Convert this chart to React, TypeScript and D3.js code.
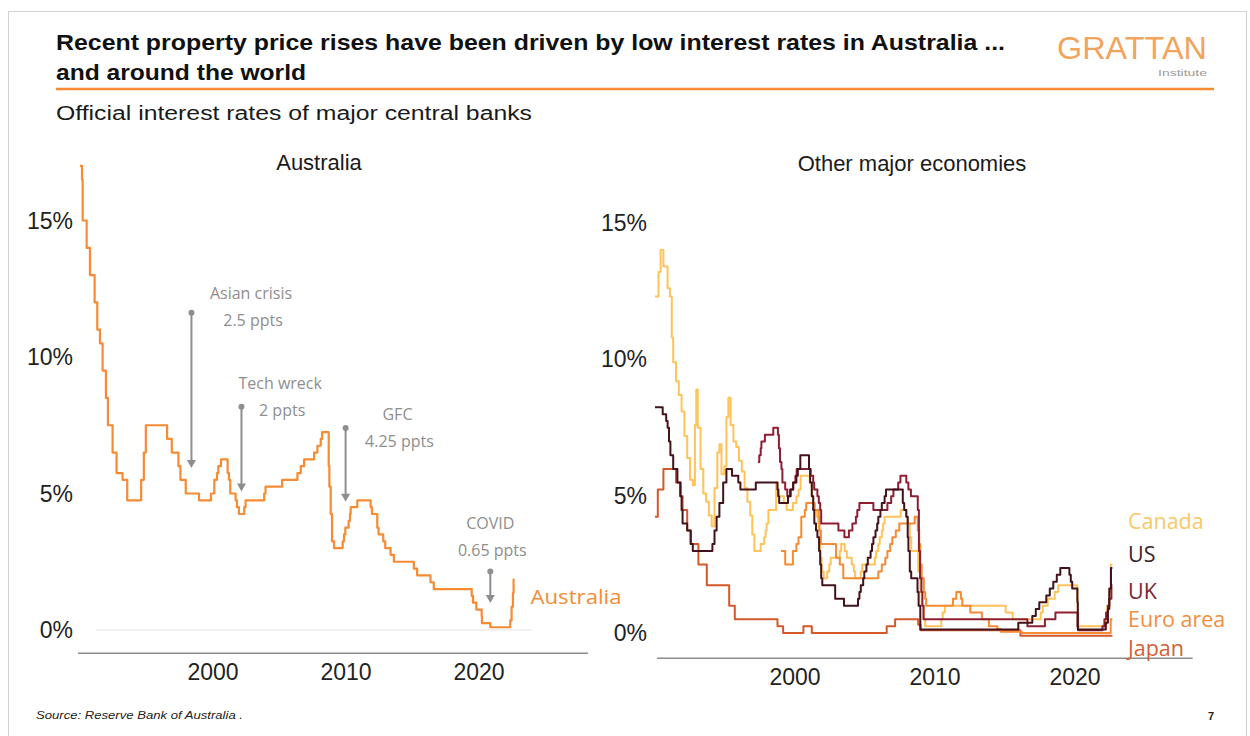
import React from 'react';
import * as d3 from 'd3';

type Pt = [number, number];

// ---------- DATA (year, % rate) — change points, drawn as steps ----------
const australia: Pt[] = [
  [1990.0, 17.0], [1990.15, 16.5], [1990.2, 15.0], [1990.5, 14.0], [1990.75, 13.0], [1991.1, 12.0],
  [1991.3, 11.0], [1991.5, 10.5], [1991.7, 9.5], [1991.95, 8.5], [1992.1, 7.5], [1992.45, 6.5],
  [1992.75, 5.75], [1993.2, 5.5], [1993.55, 4.75], [1994.6, 5.5], [1994.8, 6.5], [1994.95, 7.5],
  [1996.55, 7.0], [1996.9, 6.5], [1997.4, 6.0], [1997.55, 5.5], [1997.95, 5.0], [1998.95, 4.75],
  [1999.85, 5.0], [2000.1, 5.5], [2000.3, 5.75], [2000.4, 6.0], [2000.6, 6.25], [2001.1, 5.75],
  [2001.2, 5.5], [2001.3, 5.0], [2001.7, 4.75], [2001.8, 4.5], [2001.95, 4.25], [2002.35, 4.5],
  [2002.45, 4.75], [2003.85, 5.0], [2003.95, 5.25], [2005.2, 5.5], [2006.35, 5.75], [2006.6, 6.0],
  [2006.85, 6.25], [2007.6, 6.5], [2007.85, 6.75], [2008.1, 7.0], [2008.2, 7.25], [2008.7, 6.0],
  [2008.75, 5.25], [2008.85, 4.25], [2008.95, 3.25], [2009.1, 3.0], [2009.75, 3.25], [2009.85, 3.5],
  [2009.95, 3.75], [2010.2, 4.0], [2010.3, 4.25], [2010.35, 4.5], [2010.85, 4.75], [2011.85, 4.5],
  [2011.95, 4.25], [2012.35, 3.75], [2012.45, 3.5], [2012.8, 3.25], [2012.95, 3.0], [2013.35, 2.75],
  [2013.6, 2.5], [2015.1, 2.25], [2015.35, 2.0], [2016.35, 1.75], [2016.6, 1.5], [2019.45, 1.25],
  [2019.55, 1.0], [2019.8, 0.75], [2020.2, 0.5], [2020.22, 0.25], [2020.85, 0.1], [2022.35, 0.35],
  [2022.45, 0.85], [2022.55, 1.35], [2022.6, 1.85], [2022.67, 1.85],
];

const canada: Pt[] = [
  [1990.0, 12.3], [1990.25, 13.2], [1990.4, 14.0], [1990.6, 13.4], [1990.9, 12.6], [1991.07, 12.3],
  [1991.2, 10.8], [1991.3, 9.9], [1991.5, 9.2], [1991.7, 8.7], [1991.9, 8.1], [1992.1, 7.2],
  [1992.3, 6.4], [1992.5, 5.6], [1992.7, 5.4], [1992.85, 7.6], [1992.95, 8.9], [1993.05, 7.5],
  [1993.25, 6.0], [1993.45, 5.1], [1993.65, 4.8], [1993.85, 4.3], [1994.05, 3.9], [1994.25, 5.3],
  [1994.45, 6.6], [1994.6, 6.9], [1994.75, 5.8], [1994.95, 6.1], [1995.1, 7.9], [1995.24, 8.6],
  [1995.4, 7.6], [1995.6, 7.0], [1995.8, 6.8], [1996.0, 6.3], [1996.2, 5.9], [1996.4, 5.3],
  [1996.6, 4.8], [1996.8, 4.3], [1996.95, 3.6], [1997.1, 3.0], [1997.55, 3.25], [1997.8, 3.5],
  [1997.9, 3.75], [1997.97, 4.0], [1998.1, 4.5], [1998.65, 5.5], [1998.75, 5.25], [1998.85, 5.0],
  [1999.2, 4.75], [1999.4, 4.5], [1999.85, 4.75], [2000.1, 5.0], [2000.25, 5.25], [2000.4, 5.75],
  [2001.05, 5.5], [2001.2, 5.0], [2001.3, 4.75], [2001.4, 4.5], [2001.55, 4.25], [2001.65, 4.0],
  [2001.72, 3.75], [2001.8, 2.75], [2001.9, 2.25], [2002.05, 2.0], [2002.3, 2.25], [2002.45, 2.5],
  [2002.55, 2.75], [2003.2, 3.0], [2003.3, 3.25], [2003.55, 3.0], [2003.7, 2.75], [2004.05, 2.5],
  [2004.2, 2.25], [2004.3, 2.0], [2004.7, 2.25], [2004.8, 2.5], [2005.7, 2.75], [2005.8, 3.0],
  [2005.95, 3.25], [2006.05, 3.5], [2006.2, 3.75], [2006.3, 4.0], [2006.4, 4.25], [2007.55, 4.5],
  [2007.95, 4.25], [2008.05, 4.0], [2008.2, 3.5], [2008.3, 3.0], [2008.8, 2.25], [2008.95, 1.5],
  [2009.05, 1.0], [2009.2, 0.5], [2009.3, 0.25], [2010.45, 0.5], [2010.55, 0.75], [2010.7, 1.0],
  [2015.05, 0.75], [2015.55, 0.5], [2017.55, 0.75], [2017.7, 1.0], [2018.05, 1.25], [2018.55, 1.5],
  [2018.8, 1.75], [2020.17, 1.25], [2020.2, 0.75], [2020.23, 0.25], [2022.2, 0.5], [2022.3, 1.0],
  [2022.45, 1.5], [2022.55, 2.5], [2022.67, 2.5],
];

const us: Pt[] = [
  [1990.0, 8.25], [1990.55, 8.0], [1990.8, 7.75], [1990.9, 7.5], [1991.0, 7.0], [1991.1, 6.5],
  [1991.3, 6.0], [1991.6, 5.5], [1991.8, 5.0], [1991.9, 4.5], [1991.97, 4.0], [1992.3, 3.75],
  [1992.55, 3.25], [1992.7, 3.0], [1994.1, 3.25], [1994.25, 3.75], [1994.4, 4.25], [1994.6, 4.75],
  [1994.87, 5.5], [1995.1, 6.0], [1995.5, 5.75], [1995.95, 5.5], [1996.1, 5.25], [1997.2, 5.5],
  [1998.75, 5.25], [1998.8, 5.0], [1998.87, 4.75], [1999.5, 5.0], [1999.65, 5.25], [1999.87, 5.5],
  [2000.1, 5.75], [2000.2, 6.0], [2000.38, 6.5], [2001.0, 6.0], [2001.08, 5.5], [2001.2, 5.0],
  [2001.3, 4.5], [2001.38, 4.0], [2001.5, 3.75], [2001.6, 3.5], [2001.72, 3.0], [2001.8, 2.5],
  [2001.87, 2.0], [2001.95, 1.75], [2002.87, 1.25], [2003.5, 1.0], [2004.5, 1.25], [2004.6, 1.5],
  [2004.7, 1.75], [2004.87, 2.0], [2004.95, 2.25], [2005.1, 2.5], [2005.2, 2.75], [2005.4, 3.0],
  [2005.5, 3.25], [2005.6, 3.5], [2005.75, 3.75], [2005.87, 4.0], [2005.95, 4.25], [2006.1, 4.5],
  [2006.2, 4.75], [2006.4, 5.0], [2006.5, 5.25], [2007.7, 4.75], [2007.8, 4.5], [2007.95, 4.25],
  [2008.05, 3.5], [2008.1, 3.0], [2008.2, 2.25], [2008.3, 2.0], [2008.75, 1.5], [2008.83, 1.0],
  [2008.95, 0.125], [2015.95, 0.375], [2016.95, 0.625], [2017.2, 0.875], [2017.45, 1.125],
  [2017.95, 1.375], [2018.2, 1.625], [2018.45, 1.875], [2018.7, 2.125], [2018.95, 2.375],
  [2019.6, 2.125], [2019.7, 1.875], [2019.8, 1.625], [2020.17, 1.125], [2020.2, 0.125],
  [2022.2, 0.375], [2022.35, 0.875], [2022.45, 1.625], [2022.57, 2.375], [2022.67, 2.375],
];

const uk: Pt[] = [
  [1997.35, 6.25], [1997.45, 6.5], [1997.55, 6.75], [1997.6, 7.0], [1997.85, 7.25], [1998.45, 7.5],
  [1998.78, 7.25], [1998.85, 6.75], [1998.93, 6.25], [1999.03, 6.0], [1999.1, 5.5], [1999.3, 5.25],
  [1999.45, 5.0], [1999.7, 5.25], [1999.87, 5.5], [2000.03, 5.75], [2000.12, 6.0], [2001.12, 5.75],
  [2001.3, 5.5], [2001.37, 5.25], [2001.6, 5.0], [2001.7, 4.75], [2001.8, 4.5], [2001.87, 4.0],
  [2003.1, 3.75], [2003.53, 3.5], [2003.85, 3.75], [2004.1, 4.0], [2004.35, 4.25], [2004.45, 4.5],
  [2004.6, 4.75], [2005.6, 4.5], [2006.6, 4.75], [2006.87, 5.0], [2007.03, 5.25], [2007.37, 5.5],
  [2007.53, 5.75], [2007.95, 5.5], [2008.1, 5.25], [2008.28, 5.0], [2008.77, 4.5], [2008.85, 3.0],
  [2008.93, 2.0], [2009.03, 1.5], [2009.1, 1.0], [2009.18, 0.5], [2016.6, 0.25], [2017.85, 0.5],
  [2018.6, 0.75], [2020.18, 0.25], [2020.22, 0.1], [2021.96, 0.25], [2022.1, 0.5], [2022.22, 0.75],
  [2022.35, 1.0], [2022.45, 1.25], [2022.6, 1.75], [2022.67, 1.75],
];

const euroArea: Pt[] = [
  [1999.0, 3.0], [1999.3, 2.5], [1999.85, 3.0], [2000.1, 3.25], [2000.25, 3.5], [2000.45, 4.25],
  [2000.7, 4.5], [2000.8, 4.75], [2001.4, 4.5], [2001.7, 4.25], [2001.75, 3.75], [2001.85, 3.25],
  [2002.93, 2.75], [2003.2, 2.5], [2003.45, 2.0], [2005.95, 2.25], [2006.2, 2.5], [2006.45, 2.75],
  [2006.6, 3.0], [2006.8, 3.25], [2006.95, 3.5], [2007.2, 3.75], [2007.45, 4.0], [2008.55, 4.25],
  [2008.77, 3.75], [2008.87, 3.25], [2008.95, 2.5], [2009.05, 2.0], [2009.2, 1.5], [2009.3, 1.25],
  [2009.37, 1.0], [2011.28, 1.25], [2011.52, 1.5], [2011.85, 1.25], [2011.95, 1.0], [2012.52, 0.75],
  [2013.35, 0.5], [2013.85, 0.25], [2014.45, 0.15], [2014.7, 0.05], [2016.2, 0.0], [2022.55, 0.5],
  [2022.67, 0.5],
];

const japan: Pt[] = [
  [1990.0, 4.25], [1990.2, 5.25], [1990.6, 6.0], [1991.5, 5.5], [1991.85, 5.0], [1991.97, 4.5],
  [1992.3, 3.75], [1992.55, 3.25], [1993.1, 2.5], [1993.7, 1.75], [1995.3, 1.0], [1995.7, 0.5],
  [1998.75, 0.25], [1999.15, 0.0], [2000.6, 0.25], [2001.2, 0.0], [2006.55, 0.25], [2007.15, 0.5],
  [2008.8, 0.3], [2008.97, 0.1], [2016.1, -0.1], [2022.67, -0.1],
];

const yTicks = [0, 5, 10, 15];
const xTicks = [2000, 2010, 2020];

const otherSeries = [
  { name: 'Canada', data: canada, color: '#FFC35A', label: '#F9C766' },
  { name: 'Japan', data: japan, color: '#D4582A', label: '#D0603A' },
  { name: 'Euro area', data: euroArea, color: '#F68B33', label: '#F28E3E' },
  { name: 'UK', data: uk, color: '#8E1F33', label: '#7A2638' },
  { name: 'US', data: us, color: '#43121A', label: '#352628' },
];
const legendOrder = ['Canada', 'US', 'UK', 'Euro area', 'Japan'];

const annotations = [
  { l1: 'Asian crisis', l2: '2.5 ppts', year: 1998.38, top: 11.62, bottom: 5.93, labelYear: 2002.86, labelValue: 12.36 },
  { l1: 'Tech wreck', l2: '2 ppts', year: 2002.14, top: 8.18, bottom: 5.07, labelYear: 2005.05, labelValue: 9.06 },
  { l1: 'GFC', l2: '4.25 ppts', year: 2009.97, top: 7.4, bottom: 4.7, labelYear: 2013.87, labelValue: 7.91 },
  { l1: 'COVID', l2: '0.65 ppts', year: 2020.85, top: 2.14, bottom: 0.99, labelYear: 2020.85, labelValue: 3.93 },
];

// ---------- LAYOUT ----------
const W = 1250;
const H = 736;
const ORANGE = '#F68B33';
const AXIS = '#8c8c8c';
const TICK = '#222';
const ANNO = '#8e8e8e';
const SANS = '"Liberation Sans", Arial, sans-serif';
const OPEN = '"Open Sans", sans-serif';

const xL = d3.scaleLinear().domain([1990, 2020]).range([80, 479]);
const yL = d3.scaleLinear().domain([0, 15]).range([630, 220.5]);
const xR = d3.scaleLinear().domain([1990, 2020]).range([655, 1075]);
const yR = d3.scaleLinear().domain([0, 15]).range([633, 222.7]);

const leftAxisY = 653.3;
const rightAxisY = 658.3;
const leftAxisExt = [1989.85, 2028.2];
const rightAxisExt = [1990.15, 2028.4];
const legendY = [520, 553, 590, 618, 647];

function stepLine(x: d3.ScaleLinear<number, number>, y: d3.ScaleLinear<number, number>) {
  return d3
    .line<Pt>()
    .x((d) => x(d[0]))
    .y((d) => y(d[1]))
    .curve(d3.curveStepAfter);
}

export default function App() {
  const lineL = stepLine(xL, yL);
  const lineR = stepLine(xR, yR);
  const auLast = australia[australia.length - 1];

  return (
    <svg
      width={W}
      height={H}
      viewBox={`0 0 ${W} ${H}`}
      style={{ position: 'absolute', left: 0, top: 0, display: 'block', background: '#fff' }}
    >
      <rect x={8.5} y={11.5} width={1238} height={740} fill="none" stroke="#d2d2d2" strokeWidth={1} />

      {/* Header */}
      <text x={56} y={50} fontFamily={SANS} fontWeight={700} fontSize={22} fill="#111" textLength={949} lengthAdjust="spacingAndGlyphs">
        Recent property price rises have been driven by low interest rates in Australia ...
      </text>
      <text x={56} y={80} fontFamily={SANS} fontWeight={700} fontSize={22} fill="#111" textLength={250} lengthAdjust="spacingAndGlyphs">
        and around the world
      </text>
      <text x={1057} y={59} fontFamily={SANS} fontSize={31} fill="#F2A45C" textLength={150} lengthAdjust="spacingAndGlyphs">
        GRATTAN
      </text>
      <text x={1158} y={76} fontFamily={SANS} fontSize={9.5} fill="#9a9a9a" textLength={49} lengthAdjust="spacingAndGlyphs">
        Institute
      </text>
      <line x1={56} x2={1214} y1={89} y2={89} stroke={ORANGE} strokeWidth={2.5} />
      <text x={56} y={120} fontFamily={SANS} fontSize={20} fill="#1a1a1a" textLength={476} lengthAdjust="spacingAndGlyphs">
        Official interest rates of major central banks
      </text>

      {/* ---------- Left panel: Australia ---------- */}
      <text x={319} y={170} textAnchor="middle" fontFamily={SANS} fontSize={22} fill="#1a1a1a">
        Australia
      </text>
      <line x1={xL(1991.2)} x2={xL(2024)} y1={yL(0)} y2={yL(0)} stroke="#ececec" strokeWidth={1.5} />
      {yTicks.map((t) => (
        <text key={'yl' + t} x={73} y={yL(t) + 8} textAnchor="end" fontFamily={SANS} fontSize={23} fill={TICK}>
          {t}%
        </text>
      ))}
      <line x1={xL(leftAxisExt[0])} x2={xL(leftAxisExt[1])} y1={leftAxisY} y2={leftAxisY} stroke={AXIS} strokeWidth={1.5} />
      {xTicks.map((t) => (
        <text key={'xl' + t} x={xL(t)} y={leftAxisY + 26.5} textAnchor="middle" fontFamily={SANS} fontSize={23} fill={TICK}>
          {t}
        </text>
      ))}
      <path d={lineL(australia) || ''} fill="none" stroke={ORANGE} strokeWidth={2.2} strokeLinejoin="round" />
      <text x={xL(auLast[0]) + 16} y={yL(auLast[1]) + 25} fontFamily={OPEN} fontSize={20} fill={ORANGE} textLength={91} lengthAdjust="spacingAndGlyphs">
        Australia
      </text>

      {annotations.map((a) => {
        const ax = xL(a.year);
        const yTop = yL(a.top);
        const yBot = yL(a.bottom);
        return (
          <g key={a.l1}>
            <line x1={ax} x2={ax} y1={yTop} y2={yBot - 6} stroke={ANNO} strokeWidth={2} />
            <path d={`M${ax - 4.5},${yBot - 8} L${ax + 4.5},${yBot - 8} L${ax},${yBot} Z`} fill={ANNO} />
            <circle cx={ax} cy={yTop} r={3} fill={ANNO} />
            <text x={xL(a.labelYear)} y={yL(a.labelValue)} textAnchor="middle" dominantBaseline="central" fontFamily={OPEN} fontSize={16} fill={ANNO}>
              {a.l1}
            </text>
            <text x={xL(a.labelYear) + 2} y={yL(a.labelValue) + 27} textAnchor="middle" dominantBaseline="central" fontFamily={OPEN} fontSize={16} fill={ANNO}>
              {a.l2}
            </text>
          </g>
        );
      })}

      {/* ---------- Right panel: Other major economies ---------- */}
      <text x={912} y={171} textAnchor="middle" fontFamily={SANS} fontSize={22} fill="#1a1a1a">
        Other major economies
      </text>
      {yTicks.map((t) => (
        <text key={'yr' + t} x={647} y={yR(t) + 8} textAnchor="end" fontFamily={SANS} fontSize={23} fill={TICK}>
          {t}%
        </text>
      ))}
      <line x1={xR(rightAxisExt[0])} x2={xR(rightAxisExt[1])} y1={rightAxisY} y2={rightAxisY} stroke={AXIS} strokeWidth={1.5} />
      {xTicks.map((t) => (
        <text key={'xr' + t} x={xR(t)} y={rightAxisY + 27} textAnchor="middle" fontFamily={SANS} fontSize={23} fill={TICK}>
          {t}
        </text>
      ))}
      {otherSeries.map((s) => (
        <path key={s.name} d={lineR(s.data) || ''} fill="none" stroke={s.color} strokeWidth={2} strokeLinejoin="round" />
      ))}
      {legendOrder.map((n, i) => {
        const s = otherSeries.find((o) => o.name === n)!;
        return (
          <text key={'lg' + n} x={1128} y={legendY[i]} dominantBaseline="central" fontFamily={OPEN} fontSize={21.5} fill={s.label}>
            {n}
          </text>
        );
      })}

      {/* Footer */}
      <text x={36} y={719} fontFamily={SANS} fontStyle="italic" fontSize={11} fill="#222" textLength={207} lengthAdjust="spacingAndGlyphs">
        Source: Reserve Bank of Australia .
      </text>
      <text x={1208} y={720} fontFamily={SANS} fontWeight={700} fontSize={11} fill="#222">
        7
      </text>
    </svg>
  );
}
